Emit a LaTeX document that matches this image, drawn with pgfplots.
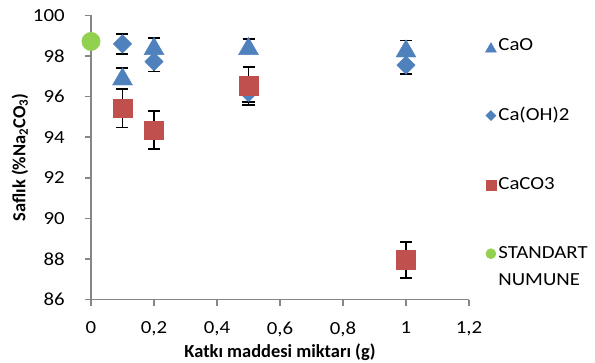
\documentclass[border=0pt]{standalone}
\usepackage{fontspec}
\setmainfont{Carlito}[UprightFeatures={FakeStretch=1.13}]
\usepackage{pgfplots}
\pgfplotsset{compat=1.18}
\definecolor{cblue}{HTML}{4F81BD}
\definecolor{cred}{HTML}{C0504D}
\definecolor{cgreen}{HTML}{92D050}
\definecolor{caxis}{HTML}{868686}
\begin{document}
\fontsize{18.5}{22}\selectfont
\begin{tikzpicture}
\begin{axis}[
  scale only axis, width=378bp, height=284bp,
  xmin=0, xmax=1.2, ymin=86, ymax=100,
  xtick={0,0.2,0.4,0.6,0.8,1,1.2}, ytick={86,88,...,100},
  axis x line*=bottom, axis y line*=left,
  axis line style={draw=caxis, line width=1.5bp},
  tick align=outside, major tick length=6bp,
  tick style={draw=caxis, line width=1.5bp},
  /pgf/number format/use comma,
  /pgf/number format/assume math mode=true,
  xticklabel style={/pgf/number format/fixed, yshift=-10bp},
  yticklabel={\pgfmathprintnumber{\tick}\hspace*{14bp}},
  xlabel={\bfseries Katkı maddesi miktarı (g)},
  ylabel={\bfseries Saflık (\%Na\textsubscript{2}CO\textsubscript{3})},
  xlabel style={at={(axis description cs:0.5,-0.185)}, anchor=center},
  ylabel style={at={(axis description cs:-0.188,0.5)}, anchor=center},
  clip=false,
  legend style={at={(axis description cs:1.043,0.926)}, anchor=north west, draw=none, fill=none,
    row sep=50bp, cells={anchor=west}, inner sep=0pt},
  legend image code/.code={\draw[#1, /tikz/every mark/.append style={scale=0.55}] plot coordinates {(0.22cm,0cm)};},
  error bars/y dir=both, error bars/y explicit,
  error bars/error bar style={black, line width=1.6bp},
  error bars/error mark options={rotate=90, mark size=6bp, black, line width=1.6bp},
]
\addplot[only marks, mark=triangle*, mark size=11.5bp, mark options={fill=cblue, draw=cblue, yshift=-2.9bp}]
  coordinates {(0.1,97.0) +- (0,0.40) (0.2,98.5) +- (0,0.38) (0.5,98.5) +- (0,0.35) (1,98.38) +- (0,0.38)};
\addlegendentry{CaO}
\addplot[only marks, mark=diamond*, mark size=9.2bp, mark options={fill=cblue, draw=cblue, xscale=1.33}]
  coordinates {(0.1,98.6) +- (0,0.49) (0.2,97.73) +- (0,0.5) (0.5,96.2) +- (0,0.45) (1,97.55) +- (0,0.42)};
\addlegendentry{Ca(OH)2}
\addplot[only marks, mark=square*, mark size=9.4bp, mark options={fill=cred, draw=cred}]
  coordinates {(0.1,95.43) +- (0,0.95) (0.2,94.35) +- (0,0.94) (0.5,96.52) +- (0,0.93) (1,87.95) +- (0,0.88)};
\addlegendentry{CaCO3}
\addplot[only marks, mark=*, mark size=9.2bp, mark options={fill=cgreen, draw=cgreen}]
  coordinates {(0,98.72)};
\addlegendentry{\rlap{\raisebox{-27bp}[0pt][0pt]{NUMUNE}}STANDART}
\coordinate (o) at (rel axis cs:0,0);
\end{axis}
\pgfresetboundingbox
\path ([xshift=-91bp,yshift=-63.5bp]o) rectangle ++(595bp,363bp);
\end{tikzpicture}
\end{document}
